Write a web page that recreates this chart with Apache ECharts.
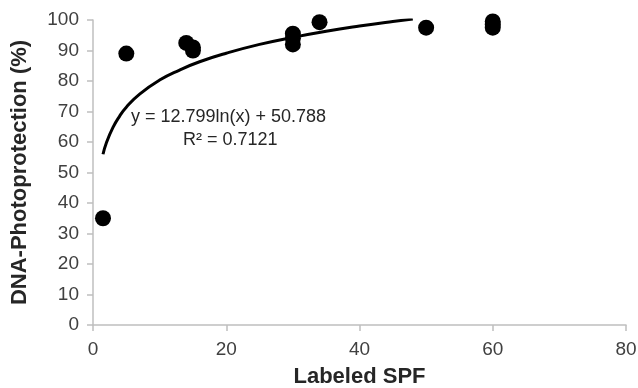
<!DOCTYPE html>
<html>
<head>
<meta charset="utf-8">
<script src="https://cdn.jsdelivr.net/npm/echarts@6/dist/echarts.min.js"></script>
<style>
  html, body { margin: 0; padding: 0; background: #fff; }
  #chart { width: 638px; height: 388px; }
</style>
</head>
<body>
<div id="chart"></div>
<script>
// measured points (labeled SPF vs DNA photoprotection %)
const spfValues = [1.5, 5, 14, 15, 15, 30, 30, 30, 34, 50, 60, 60, 60];
const protectionValues = [35, 89, 92.5, 91, 90, 95.5, 94, 92, 99.3, 97.5, 99.5, 98.5, 97.5];

// logarithmic trendline
const trendX = [1.5, 2, 3, 4, 5, 7, 10, 13, 16, 20, 25, 30, 35, 40, 45, 48];
const trendY = [56.0, 59.7, 64.8, 68.5, 71.4, 75.7, 80.3, 83.6, 86.3, 89.1, 92.0, 94.3, 96.3, 98.0, 99.5, 100.3];

const equationText = 'y = 12.799ln(x) + 50.788';
const rSquaredText = 'R² = 0.7121';

const xTicks = { min: 0, max: 80, interval: 20 };
const yTicks = { min: 0, max: 100, interval: 10 };

const chart = echarts.init(document.getElementById('chart'), null, { renderer: 'canvas' });

const axisColor = '#bfbfbf';
const labelColor = '#404040';
const fontFamily = '"Liberation Sans", Arial, sans-serif';

chart.setOption({
  animation: false,
  backgroundColor: '#fff',
  grid: { left: 93, right: 12, top: 20, bottom: 63, containLabel: false, outerBoundsMode: 'none' },
  xAxis: {
    type: 'value',
    min: xTicks.min,
    max: xTicks.max,
    interval: xTicks.interval,
    name: 'Labeled SPF',
    nameLocation: 'middle',
    nameGap: 41,
    nameTextStyle: { fontFamily, fontSize: 22, fontWeight: 'bold', color: '#262626' },
    axisLine: { lineStyle: { color: axisColor, width: 1.5 } },
    axisTick: { show: true, length: 6, lineStyle: { color: axisColor, width: 1.5 } },
    axisLabel: { fontFamily, fontSize: 19, color: labelColor, margin: 15 },
    splitLine: { show: false }
  },
  yAxis: {
    type: 'value',
    min: yTicks.min,
    max: yTicks.max,
    interval: yTicks.interval,
    name: 'DNA-Photoprotection (%)',
    nameLocation: 'middle',
    nameGap: 62,
    nameTextStyle: { fontFamily, fontSize: 22, fontWeight: 'bold', color: '#262626' },
    axisLine: { show: true, lineStyle: { color: axisColor, width: 1.5 } },
    axisTick: { show: true, length: 6, lineStyle: { color: axisColor, width: 1.5 } },
    axisLabel: { fontFamily, fontSize: 19, color: labelColor, margin: 14 },
    splitLine: { show: false }
  },
  series: [
    {
      name: 'trend',
      type: 'line',
      data: trendX.map((x, i) => [x, trendY[i]]),
      smooth: true,
      showSymbol: false,
      symbol: 'none',
      lineStyle: { color: '#000', width: 3 },
      z: 2
    },
    {
      name: 'measured',
      type: 'scatter',
      data: spfValues.map((x, i) => [x, protectionValues[i]]),
      symbol: 'circle',
      symbolSize: 16,
      itemStyle: { color: '#000', opacity: 1 },
      z: 3
    }
  ],
  graphic: [
    {
      type: 'text',
      left: 131,
      top: 108,
      style: { text: equationText, font: '18px ' + fontFamily, fill: '#262626' }
    },
    {
      type: 'text',
      left: 183,
      top: 131,
      style: { text: rSquaredText, font: '18px ' + fontFamily, fill: '#262626' }
    }
  ]
});
</script>
</body>
</html>
